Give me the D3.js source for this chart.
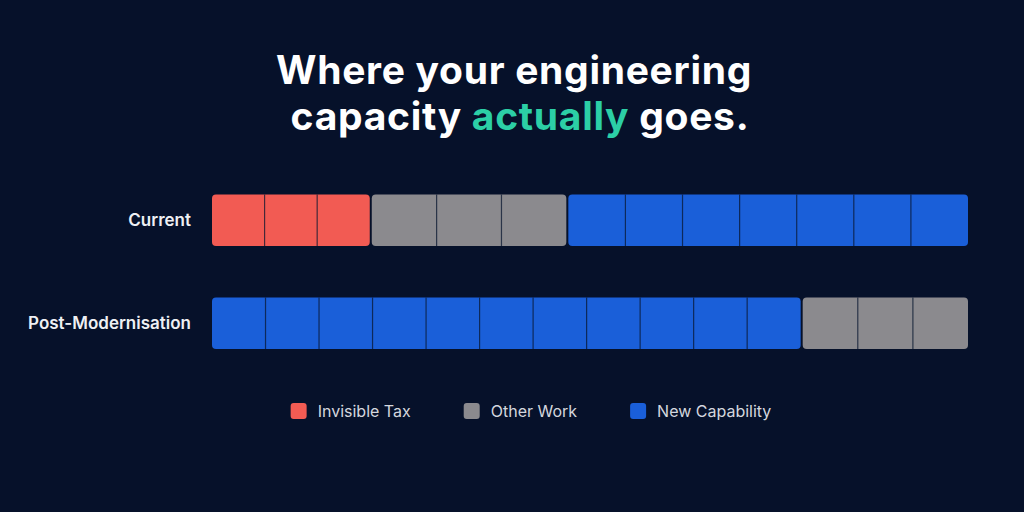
<!DOCTYPE html>
<html>
<head>
<meta charset="utf-8">
<script src="https://cdn.jsdelivr.net/npm/d3@7"></script>
<style>
  html, body { margin: 0; padding: 0; background: #06112a; }
  svg { display: block; }
</style>
</head>
<body>
<svg id="chart" width="1024" height="512"></svg>
<script>
// ---- data ----
const rows = ["Current", "Post-Modernisation"];
const categories = ["Invisible Tax", "Other Work", "New Capability"];
const colors = ["#f25b53", "#8b8a8e", "#1a5fd9"];
// share of capacity (%) per segment, in drawing order
const currentSegments = ["Invisible Tax", "Other Work", "New Capability"];
const currentValues = [21, 26, 53];
const currentCells = [3, 3, 7];
const postSegments = ["New Capability", "Other Work"];
const postValues = [78, 22];
const postCells = [11, 3];
const titleLine1 = "Where your engineering";
const titleLine2 = ["capacity ", "actually", " goes."];

// ---- layout ----
const svg = d3.select("#chart");
const W = 1024, H = 512;
svg.append("rect").attr("width", W).attr("height", H).attr("fill", "#06112a");

const color = d3.scaleOrdinal().domain(categories).range(colors);
const x = d3.scaleLinear().domain([0, 100]).range([212, 968]);
const y = d3.scaleBand().domain(rows).range([194.5, 349]).paddingInner(0.5).paddingOuter(0);

// title
const title = svg.append("g").attr("font-family", "Inter, 'Noto Sans', sans-serif")
  .attr("font-weight", 700).attr("font-size", 39).attr("letter-spacing", 0.7)
  .attr("text-anchor", "middle");
title.append("text").attr("x", 514).attr("y", 84).attr("fill", "#ffffff").text(titleLine1);
const t2 = title.append("text").attr("x", 520).attr("y", 130).attr("fill", "#ffffff");
t2.append("tspan").text(titleLine2[0]);
t2.append("tspan").attr("fill", "#2ccfa6").text(titleLine2[1]);
t2.append("tspan").text(titleLine2[2]);

// bars
const data = [
  { row: rows[0], segs: currentSegments, vals: currentValues, cells: currentCells },
  { row: rows[1], segs: postSegments, vals: postValues, cells: postCells }
];
const gap = 1;
data.forEach(d => {
  let acc = 0;
  const g = svg.append("g");
  d.segs.forEach((s, i) => {
    const x0 = x(acc), x1 = x(acc + d.vals[i]);
    acc += d.vals[i];
    const left = i === 0 ? x0 : x0 + gap;
    const right = i === d.segs.length - 1 ? x1 : x1 - gap;
    g.append("rect")
      .attr("x", left).attr("y", y(d.row))
      .attr("width", right - left).attr("height", y.bandwidth())
      .attr("rx", 4).attr("fill", color(s));
    // cell dividers
    const n = d.cells[i];
    for (let k = 1; k < n; k++) {
      const cx = left + (right - left) * k / n;
      g.append("line")
        .attr("x1", cx).attr("x2", cx)
        .attr("y1", y(d.row)).attr("y2", y(d.row) + y.bandwidth())
        .attr("stroke", "#0a1730").attr("stroke-opacity", 0.75).attr("stroke-width", 1.2);
    }
  });
  svg.append("text")
    .attr("x", 191).attr("y", y(d.row) + y.bandwidth() / 2)
    .attr("dy", "0.35em").attr("text-anchor", "end")
    .attr("font-family", "Inter, 'Noto Sans', sans-serif")
    .attr("font-weight", 600).attr("font-size", 17)
    .attr("fill", "#eef0f4").text(d.row);
});

// legend
const legend = svg.append("g").attr("font-family", "Inter, 'Noto Sans', sans-serif")
  .attr("font-size", 16).attr("fill", "#d4d7de");
const items = [];
categories.forEach((c, i) => {
  const it = legend.append("g");
  it.append("rect").attr("x", 0).attr("y", -8).attr("width", 16).attr("height", 16)
    .attr("rx", 3).attr("fill", color(c));
  const tx = it.append("text").attr("x", 27).attr("y", 0).attr("dy", "0.35em").text(c);
  const w = 27 + tx.node().getComputedTextLength();
  items.push({ it, w });
});
const spacing = 53;
const total = d3.sum(items, d => d.w) + spacing * (items.length - 1);
let cx = 531 - total / 2;
items.forEach(d => {
  d.it.attr("transform", `translate(${cx},411)`);
  cx += d.w + spacing;
});
</script>
</body>
</html>
